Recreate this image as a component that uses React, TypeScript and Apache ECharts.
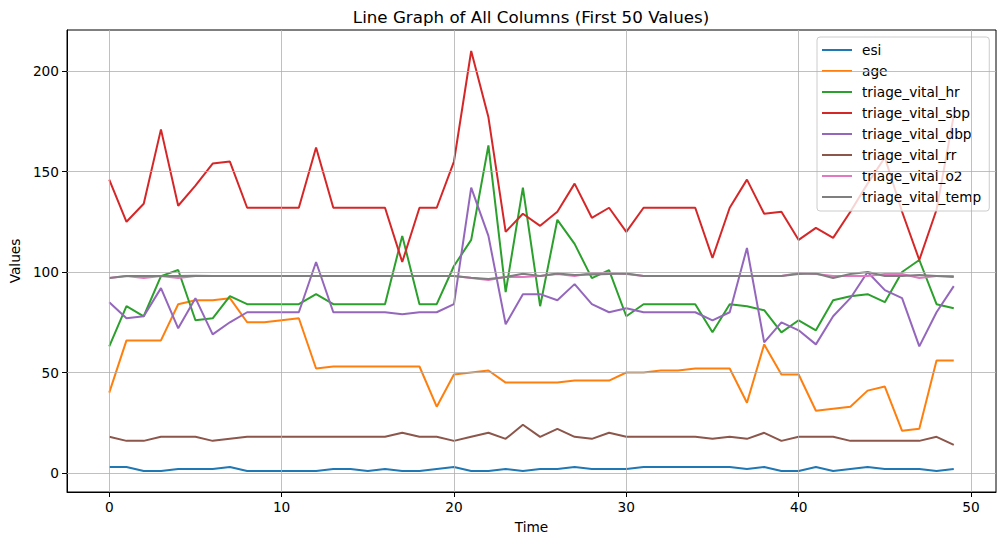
import React, { useEffect, useRef } from "react";
import * as echarts from "echarts";

const seriesNames = [
  "esi",
  "age",
  "triage_vital_hr",
  "triage_vital_sbp",
  "triage_vital_dbp",
  "triage_vital_rr",
  "triage_vital_o2",
  "triage_vital_temp",
];
const colors = ["#1f77b4", "#ff7f0e", "#2ca02c", "#d62728", "#9467bd", "#8c564b", "#e377c2", "#7f7f7f"];

const esi = [3,3,1,1,2,2,2,3,1,1,1,1,1,2,2,1,2,1,1,2,3,1,1,2,1,2,2,3,2,2,2,3,3,3,3,3,3,2,3,1,1,3,1,2,3,2,2,2,1,2];
const age = [40,66,66,66,84,86,86,87,75,75,76,77,52,53,53,53,53,53,53,33,49,50,51,45,45,45,45,46,46,46,50,50,51,51,52,52,52,35,64,49,49,31,32,33,41,43,21,22,56,56];
const hr = [63,83,78,98,101,76,77,88,84,84,84,84,89,84,84,84,84,118,84,84,103,116,163,90,142,83,126,114,97,101,78,84,84,84,84,70,84,83,81,70,76,71,86,88,89,85,100,106,84,82];
const sbp = [146,125,134,171,133,143,154,155,132,132,132,132,162,132,132,132,132,105,132,132,155,210,177,120,129,123,130,144,127,132,120,132,132,132,132,107,132,146,129,130,116,122,117,130,144,157,130,106,131,178];
const dbp = [85,77,78,92,72,87,69,75,80,80,80,80,105,80,80,80,80,79,80,80,84,142,118,74,89,89,86,94,84,80,82,80,80,80,80,76,80,112,65,75,71,64,78,87,100,91,87,63,80,93];
const rr = [18,16,16,18,18,18,16,17,18,18,18,18,18,18,18,18,18,20,18,18,16,18,20,17,24,18,22,18,17,20,18,18,18,18,18,17,18,17,20,16,18,18,18,16,16,16,16,16,18,14];
const o2 = [97,98,97,98,97,98,98,98,98,98,98,98,98,98,98,98,98,98,98,98,98,97,96,97.5,97.5,98,99,98,99.5,99.5,99,98,98,98,98,98,98,98,98,98,99.5,99,98,98,98,99,99,97,98,98];
const temp = [97,98,98,98,98,98.2,98,98,98,98,98,98,98,98,98,98,98,98,98,98,98,97.2,96.5,97.5,99.2,98,99.3,98.5,98.8,99,99.3,98,98,98,98,98,98,98,98,98,99,99.3,97,99,100,98,98,98.5,98,97.5];

const xTicks = [0, 10, 20, 30, 40, 50];
const yTicks = [0, 50, 100, 150, 200];

const allSeries = [esi, age, hr, sbp, dbp, rr, o2, temp];
const FONT = "DejaVu Sans";
const FS = 13.7;

export default function App() {
  const ref = useRef<HTMLDivElement>(null);
  useEffect(() => {
    if (!ref.current) return;
    const chart = echarts.init(ref.current, null, { renderer: "svg" });
    const n = esi.length;
    const xMin = -0.05 * (n - 1);
    const xMax = n - 1 + 0.05 * (n - 1);
    const flat = allSeries.flat();
    const lo = Math.min(...flat);
    const hi = Math.max(...flat);
    const yMin = lo - 0.05 * (hi - lo);
    const yMax = hi + 0.05 * (hi - lo);

    const gridLine = { color: "#b0b0b0", width: 0.8, type: "solid" as const };
    const lineSeries = allSeries.map((arr, k) => ({
      name: seriesNames[k],
      type: "line" as const,
      data: arr.map((v, i) => [i, v]),
      showSymbol: false,
      symbol: "none",
      lineStyle: { color: colors[k], width: 2 },
      itemStyle: { color: colors[k] },
      z: 3,
    }));

    chart.setOption({
      animation: false,
      color: colors,
      textStyle: { fontFamily: FONT },
      graphic: [
        {
          type: "text",
          x: 531,
          y: 17,
          style: {
            text: "Line Graph of All Columns (First 50 Values)",
            textAlign: "center",
            textVerticalAlign: "middle",
            fontFamily: FONT,
            fontSize: 16.7,
            fill: "#000",
          },
        },
      ],
      grid: {
        left: 66,
        right: 9,
        top: 30,
        bottom: 53,
        show: true,
        borderColor: "#000",
        borderWidth: 1,
        backgroundColor: "transparent",
      },
      legend: {
        data: seriesNames,
        orient: "vertical",
        left: 817,
        top: 37,
        icon: "rect",
        itemWidth: 30,
        itemHeight: 2,
        itemGap: 7,
        padding: [6, 8, 7, 5],
        backgroundColor: "rgba(255,255,255,0.8)",
        borderColor: "#cccccc",
        borderWidth: 1,
        borderRadius: 3,
        textStyle: { fontFamily: FONT, fontSize: FS, color: "#000", lineHeight: 14, padding: [0, 0, 0, 5] },
      },
      xAxis: {
        type: "value",
        min: xMin,
        max: xMax,
        name: "Time",
        nameLocation: "middle",
        nameGap: 28,
        nameTextStyle: { fontFamily: FONT, fontSize: FS, color: "#000" },
        axisLine: { show: true, onZero: false, lineStyle: { color: "#000", width: 1 } },
        axisTick: { show: true, inside: false, length: 5, customValues: xTicks, lineStyle: { color: "#000", width: 1 } },
        axisLabel: { customValues: xTicks, margin: 8, fontFamily: FONT, fontSize: FS, color: "#000" },
        splitLine: { show: false },
      },
      yAxis: {
        type: "value",
        min: yMin,
        max: yMax,
        name: "Values",
        nameLocation: "middle",
        nameGap: 44,
        nameRotate: 90,
        nameTextStyle: { fontFamily: FONT, fontSize: FS, color: "#000" },
        axisLine: { show: true, onZero: false, lineStyle: { color: "#000", width: 1 } },
        axisTick: { show: true, inside: false, length: 5, customValues: yTicks, lineStyle: { color: "#000", width: 1 } },
        axisLabel: { customValues: yTicks, margin: 8, fontFamily: FONT, fontSize: FS, color: "#000" },
        splitLine: { show: false },
      },
      series: [
        {
          name: "__grid",
          type: "line",
          data: [],
          silent: true,
          z: 1,
          markLine: {
            silent: true,
            symbol: "none",
            label: { show: false },
            lineStyle: gridLine,
            emphasis: { disabled: true },
            data: [
              ...xTicks.map((v) => ({ xAxis: v })),
              ...yTicks.map((v) => ({ yAxis: v })),
            ],
          },
        },
        ...lineSeries,
      ],
    });
    return () => chart.dispose();
  }, []);
  return (
    <div
      ref={ref}
      style={{ position: "fixed", left: 0, top: 0, width: 1005, height: 545, background: "#fff" }}
    />
  );
}
